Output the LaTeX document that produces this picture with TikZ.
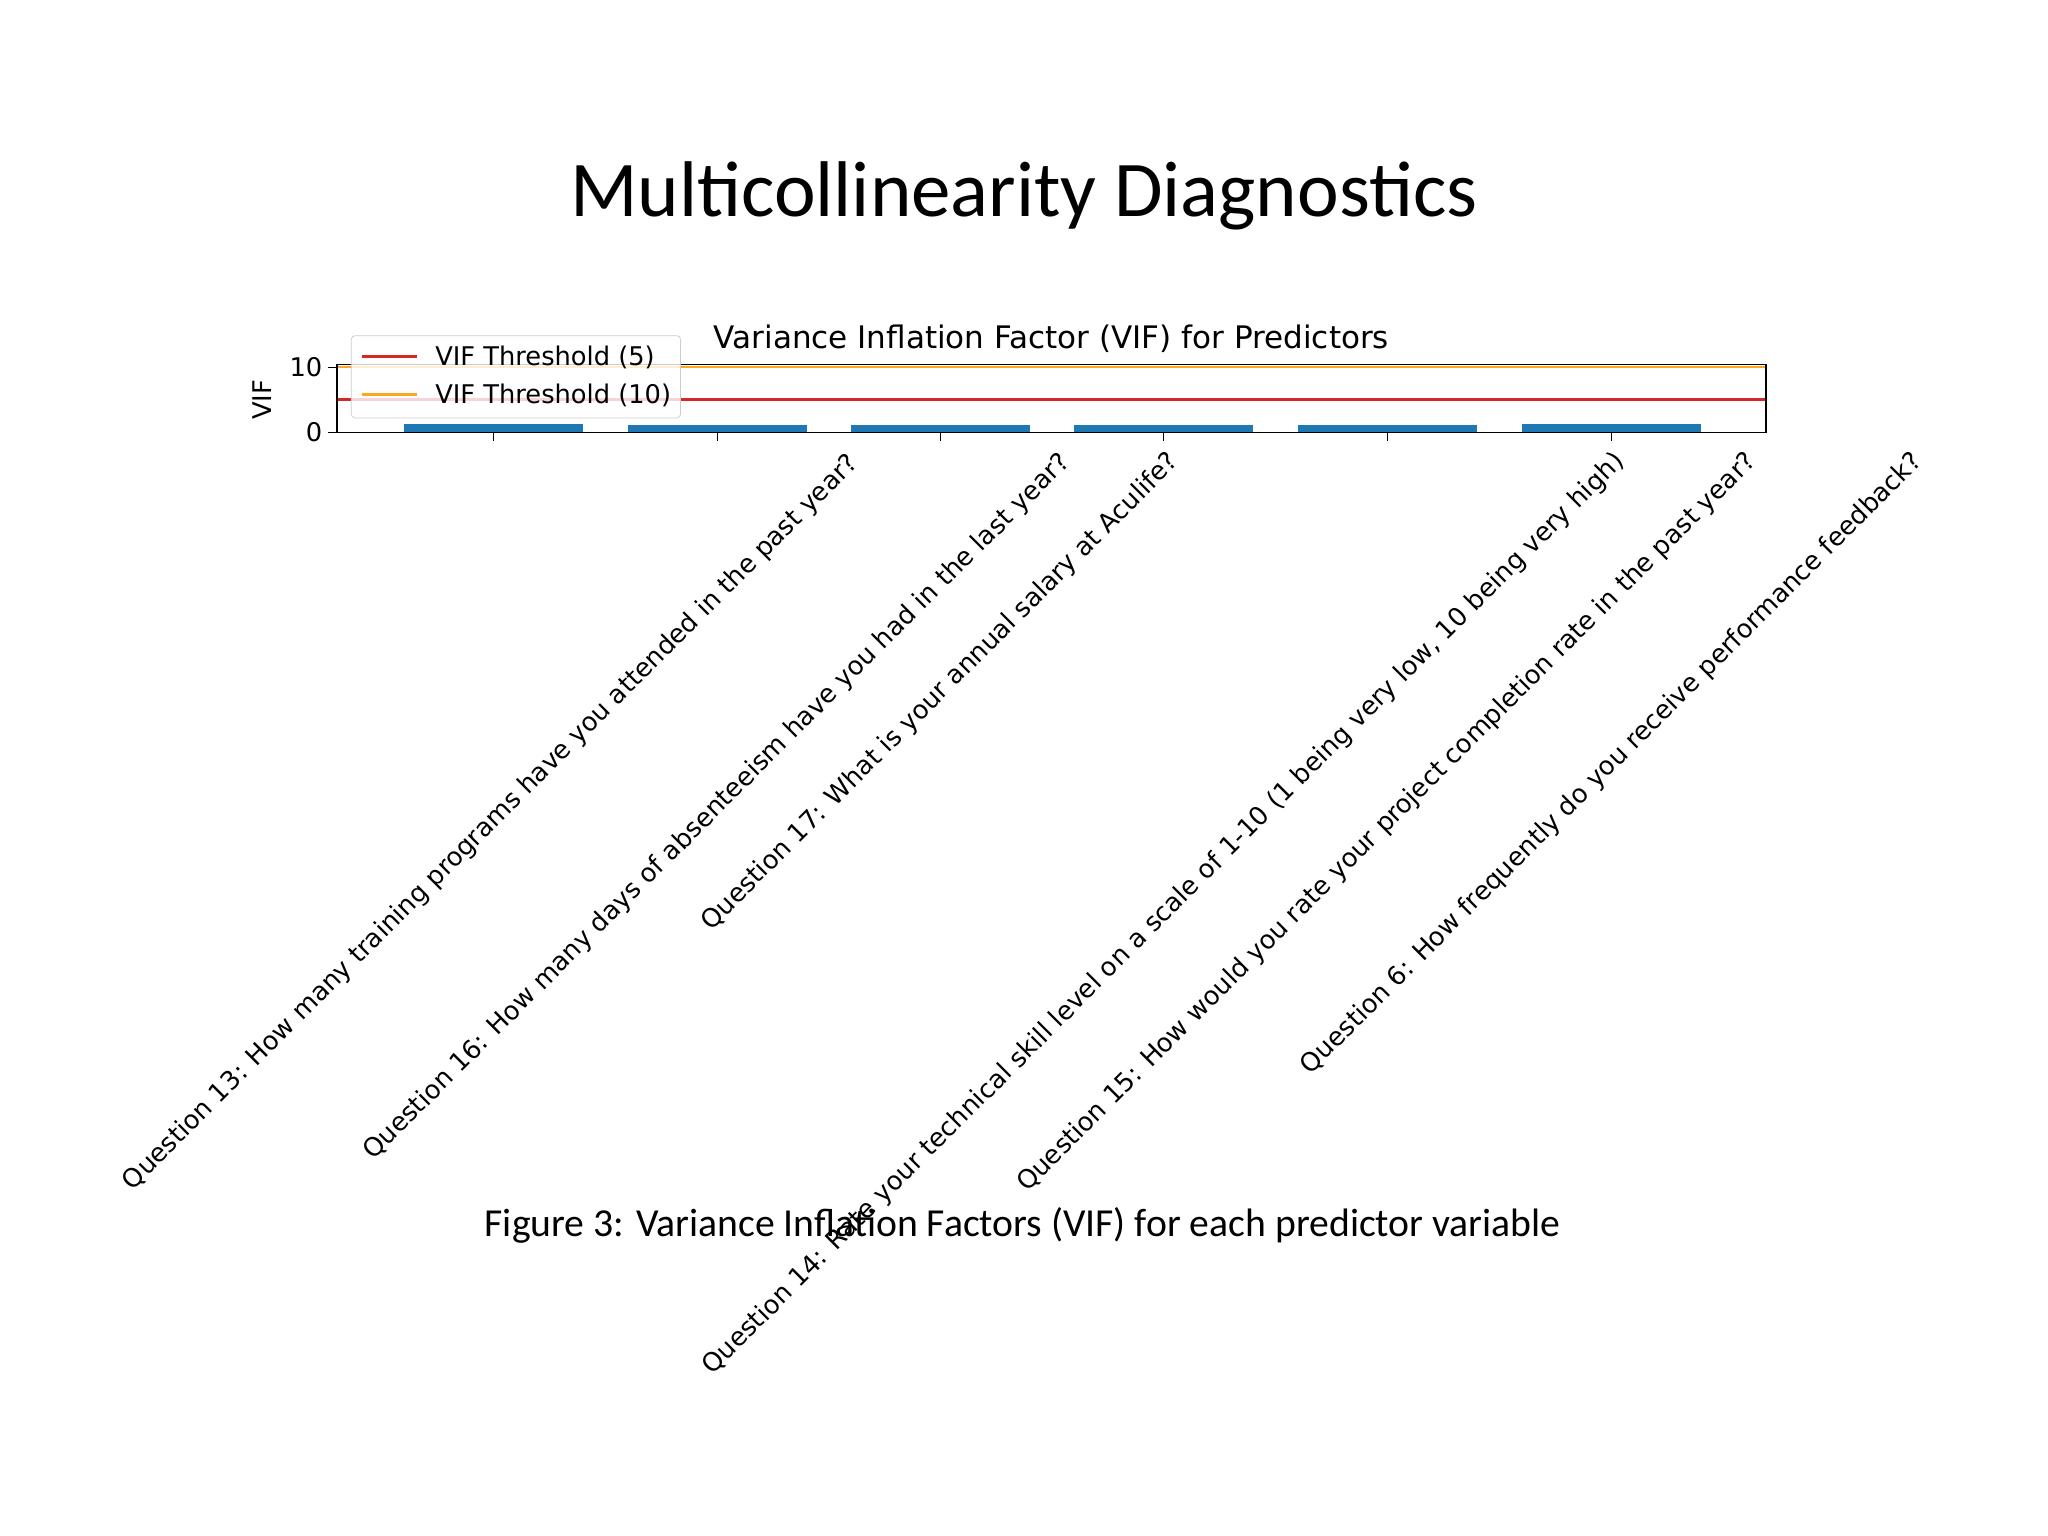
\documentclass[tikz,border=0pt]{standalone}
\usepackage{fontspec}
\setmainfont{Carlito}
\newfontfamily\dv{DejaVu Sans}
\begin{document}
\begin{tikzpicture}[x=0.025cm,y=-0.025cm,
  lab/.style={font=\dv\fontsize{14}{16}\selectfont, inner sep=0pt},
  tl/.style={lab, rotate=45}]
\useasboundingbox (0,0) rectangle (1568,1176);
\definecolor{mplblue}{HTML}{1F77B4}
\definecolor{mplred}{HTML}{D62728}
\definecolor{mplorange}{HTML}{FFA520}
\node[font=\fontsize{43}{50}\selectfont] (title) at (784,150) {Multicollinearity Diagnostics};
\node[lab, font=\dv\fontsize{16.9}{19}\selectfont] (ptitle) at (805,259) {Variance Inflation Factor (VIF) for Predictors};
\foreach \x/\v in {378/1.25,549/1.1,720/1.1,891/1.1,1062/1.1,1234/1.2}{
  \fill[mplblue] (\x-68.5,331) rectangle (\x+68.5,331-5*\v);
  \draw (\x,331) -- (\x,338);
}
\draw[mplred, line width=1.3pt] (258,306) -- (1352,306);
\draw[mplorange, line width=1.3pt] (258,281) -- (1352,281);
\draw[line width=0.8pt] (258,279) rectangle (1352,331);
\draw (258,331) -- (251,331) (258,281) -- (251,281);
\node[lab, anchor=east] (y0) at (247,331) {0};
\node[lab, anchor=east] (y10) at (247,281) {10};
\node[lab, rotate=90] (ylab) at (201,306) {VIF};
\draw[gray!40, fill=white, fill opacity=0.8, rounded corners=2pt] (269,257) rectangle (521,320);
\draw[mplred, line width=1.3pt] (277,273) -- (319,273);
\draw[mplorange, line width=1.3pt] (277,302) -- (319,302);
\node[lab, anchor=west] (l1) at (333,274) {VIF Threshold (5)};
\node[lab, anchor=west] (l2) at (333,303) {VIF Threshold (10)};
\node[tl] (q13) at (376,630) {Question 13: How many training programs have you attended in the past year?};
\node[tl] (q16) at (549,618) {Question 16: How many days of absenteeism have you had in the last year?};
\node[tl] (q17) at (720,530) {Question 17: What is your annual salary at Aculife?};
\node[tl] (q14) at (891,700) {Question 14: Rate your technical skill level on a scale of 1-10 (1 being very low, 10 being very high)};
\node[tl] (q15) at (1062,630) {Question 15: How would you rate your project completion rate in the past year?};
\node[tl] (q6) at (1234,585) {Question 6: How frequently do you receive performance feedback?};
\node[font=\fontsize{21.6}{26}\selectfont] (cap) at (783,938) {Figure 3: Variance Inflation Factors (VIF) for each predictor variable};
\end{tikzpicture}
\end{document}
